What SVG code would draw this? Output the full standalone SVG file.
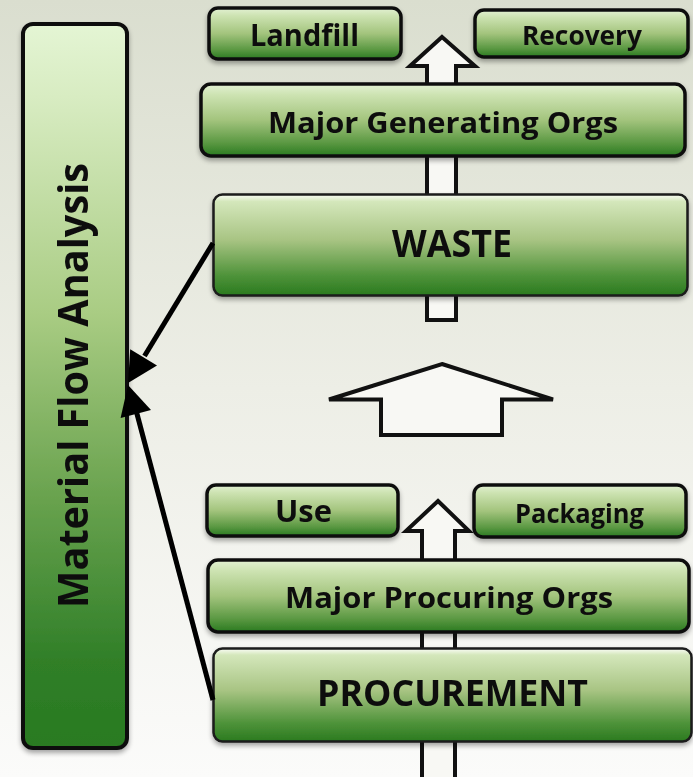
<svg xmlns="http://www.w3.org/2000/svg" width="693" height="777" viewBox="0 0 693 777">
<defs>
<linearGradient id="bg" x1="0" y1="0" x2="0" y2="1">
<stop offset="0" stop-color="#dadecf"/>
<stop offset="0.5" stop-color="#edeee6"/>
<stop offset="1" stop-color="#fbfbfa"/>
</linearGradient>
<linearGradient id="gBox" x1="0" y1="0" x2="0" y2="1">
<stop offset="0" stop-color="#e3f1d3"/>
<stop offset="0.15" stop-color="#cde3b2"/>
<stop offset="0.5" stop-color="#a3c47d"/>
<stop offset="0.82" stop-color="#5a9842"/>
<stop offset="1" stop-color="#2a7a20"/>
</linearGradient>
<linearGradient id="gBig" x1="0" y1="0" x2="0" y2="1">
<stop offset="0" stop-color="#fbfdf7"/>
<stop offset="0.07" stop-color="#d4e7bb"/>
<stop offset="0.45" stop-color="#a8c483"/>
<stop offset="0.8" stop-color="#4f933a"/>
<stop offset="1" stop-color="#2a7a1f"/>
</linearGradient>
<linearGradient id="gSide" x1="0" y1="0" x2="0" y2="1">
<stop offset="0" stop-color="#e4f5d4"/>
<stop offset="0.1" stop-color="#d8ecc2"/>
<stop offset="0.4" stop-color="#a9cc83"/>
<stop offset="0.65" stop-color="#6aa34f"/>
<stop offset="0.88" stop-color="#307f28"/>
<stop offset="1" stop-color="#297a21"/>
</linearGradient>
<filter id="sh" x="-10%" y="-10%" width="120%" height="130%">
<feGaussianBlur in="SourceAlpha" stdDeviation="2.5"/>
<feOffset dx="0" dy="3" result="b"/>
<feComponentTransfer><feFuncA type="linear" slope="0.35"/></feComponentTransfer>
<feMerge><feMergeNode/><feMergeNode in="SourceGraphic"/></feMerge>
</filter>
</defs>
<style>
.box{fill:url(#gBox);stroke:#111;stroke-width:3.5}
.big{fill:url(#gBig);stroke:#1a1a1a;stroke-width:2.5}
.side{fill:url(#gSide);stroke:#111;stroke-width:4}
.blk{fill:#f8f8f4;stroke:#111;stroke-width:4;stroke-linejoin:miter}
.lbl{font-family:"Open Sans",Lato,"Liberation Sans",sans-serif;font-weight:bold;fill:#111;text-anchor:middle}
.ln{stroke:#000;stroke-width:5;fill:none}
.hd{fill:#000}
</style>
<rect width="693" height="777" fill="url(#bg)"/>

<g id="arrows-block">
<polygon class="blk" points="442,37 475,66 456,66 456,320 427,320 427,66 410,66"/>
<polygon class="blk" points="442,364 553,399.5 502,399.5 502,435 381,435 381,399.5 329,399.5"/>
<polygon class="blk" points="438,501 469,531 455,531 455,795 422,795 422,531 406,531"/>
</g>

<g id="material-flow-analysis" filter="url(#sh)">
<rect class="side" x="23" y="24" width="104" height="724" rx="10"/>
<text class="lbl" transform="translate(88,385.5) rotate(-90)" font-size="41" textLength="445" lengthAdjust="spacingAndGlyphs">Material Flow Analysis</text>
</g>

<g id="landfill" filter="url(#sh)">
<rect class="box" x="209" y="8" width="192" height="51" rx="9"/>
<text class="lbl" x="304.5" y="46" font-size="31" textLength="109" lengthAdjust="spacingAndGlyphs">Landfill</text>
</g>
<g id="recovery" filter="url(#sh)">
<rect class="box" x="475" y="10" width="213" height="47" rx="9"/>
<text class="lbl" x="582" y="44.5" font-size="26" textLength="120" lengthAdjust="spacingAndGlyphs">Recovery</text>
</g>
<g id="major-generating-orgs" filter="url(#sh)">
<rect class="box" x="201" y="84" width="484" height="72" rx="10"/>
<text class="lbl" x="443" y="133" font-size="29" textLength="350" lengthAdjust="spacingAndGlyphs">Major Generating Orgs</text>
</g>
<g id="waste" filter="url(#sh)">
<rect class="big" x="213.5" y="194.5" width="474" height="101" rx="9"/>
<text class="lbl" x="452" y="257" font-size="37" textLength="120" lengthAdjust="spacingAndGlyphs">WASTE</text>
</g>
<g id="use" filter="url(#sh)">
<rect class="box" x="207" y="485" width="191" height="51" rx="9"/>
<text class="lbl" x="303.5" y="522" font-size="30" textLength="57" lengthAdjust="spacingAndGlyphs">Use</text>
</g>
<g id="packaging" filter="url(#sh)">
<rect class="box" x="474" y="485" width="212" height="52" rx="9"/>
<text class="lbl" x="579.5" y="523" font-size="27" textLength="129" lengthAdjust="spacingAndGlyphs">Packaging</text>
</g>
<g id="major-procuring-orgs" filter="url(#sh)">
<rect class="box" x="208" y="560" width="481" height="72" rx="10"/>
<text class="lbl" x="449" y="608" font-size="29" textLength="328" lengthAdjust="spacingAndGlyphs">Major Procuring Orgs</text>
</g>
<g id="procurement" filter="url(#sh)">
<rect class="big" x="213.5" y="648.5" width="478" height="93" rx="9"/>
<text class="lbl" x="452.5" y="706" font-size="36" textLength="271" lengthAdjust="spacingAndGlyphs">PROCUREMENT</text>
</g>

<g id="connectors">
<line class="ln" x1="213" y1="243" x2="144.5" y2="356"/>
<polygon class="hd" points="128,383 130.2,349.3 157,365.5"/>
<line class="ln" x1="213" y1="700" x2="136.5" y2="412"/>
<polygon class="hd" points="128,385 151,410 120.6,418"/>
</g>
</svg>
